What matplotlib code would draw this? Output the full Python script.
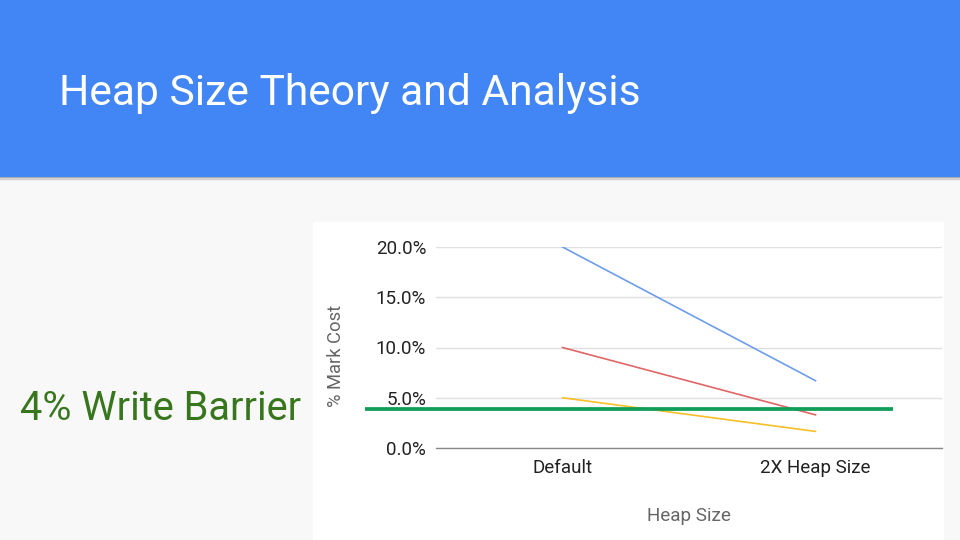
import matplotlib.pyplot as plt
from matplotlib.patches import Rectangle

plt.rcParams['font.family'] = ['Roboto', 'DejaVu Sans']

# chart data
categories = ['Default', '2X Heap Size']
blue_series = [20.0, 6.7]
red_series = [10.0, 3.3]
yellow_series = [5.0, 1.65]
barrier = 3.85  # drawn overlay line, sits just under 4%
y_ticks = [0, 5, 10, 15, 20]

W, H = 960, 540
fig = plt.figure(figsize=(W / 100, H / 100), dpi=100)
fig.patch.set_facecolor('#f8f8f8')

# header band + soft shadow
for i, a in enumerate([0.18, 0.10, 0.05]):
    fig.patches.append(Rectangle((0, 1 - (178 + i * 1.5) / H), 1, (178 + i * 1.5) / H,
                                 transform=fig.transFigure, color='#000000', alpha=a,
                                 lw=0, zorder=-5))
fig.patches.append(Rectangle((0, 1 - 177 / H), 1, 177 / H, transform=fig.transFigure,
                             color='#4285f4', lw=0, zorder=-5))
fig.text(59 / W, 1 - 93 / H, 'Heap Size Theory and Analysis', color='white',
         fontsize=30.7, va='center', ha='left')

# white chart panel
fig.patches.append(Rectangle((313 / W, 0), (944 - 313) / W, (540 - 222) / H,
                             transform=fig.transFigure, color='white', lw=0, zorder=-5))

fig.text(19.5 / W, 1 - 409 / H, '4% Write Barrier', color='#38761d',
         fontsize=28.6, va='center', ha='left')

ax = fig.add_axes([436 / W, (540 - 448) / H, 506 / W, 201 / H])
ax.set_facecolor('white')
x = range(len(categories))
ax.plot(x, blue_series, color='#6d9eeb', lw=1.2)
ax.plot(x, red_series, color='#e06666', lw=1.2)
ax.plot(x, yellow_series, color='#f6c026', lw=1.2)
ax.axhline(barrier, xmin=-0.14, xmax=0.903, color='#0f9d58', lw=2.7,
           clip_on=False, zorder=5, solid_capstyle='butt')

ax.set_xlim(-0.5, 1.5)
ax.set_ylim(0, 20)
ax.set_yticks(y_ticks)
ax.set_yticklabels([f'{v:.1f}%' for v in y_ticks])
ax.set_xticks(list(x))
ax.set_xticklabels(categories)
ax.tick_params(length=0, labelsize=13.5, colors='#222222')
ax.tick_params(axis='y', pad=7)
ax.tick_params(axis='x', pad=8)
ax.grid(axis='y', color='#e0e0e0', lw=1)
ax.set_axisbelow(True)
for s in ['top', 'right', 'left']:
    ax.spines[s].set_visible(False)
ax.spines['bottom'].set_color('#888888')
ax.spines['bottom'].set_linewidth(1)

ax.set_ylabel('% Mark Cost', color='#666666', fontsize=13.2)
ax.yaxis.set_label_coords(-0.18, 0.46)
ax.set_xlabel('Heap Size', color='#666666', fontsize=13.6)
ax.xaxis.set_label_coords(0.5, -0.295)

fig.savefig('out.png', dpi=100, facecolor=fig.get_facecolor())
